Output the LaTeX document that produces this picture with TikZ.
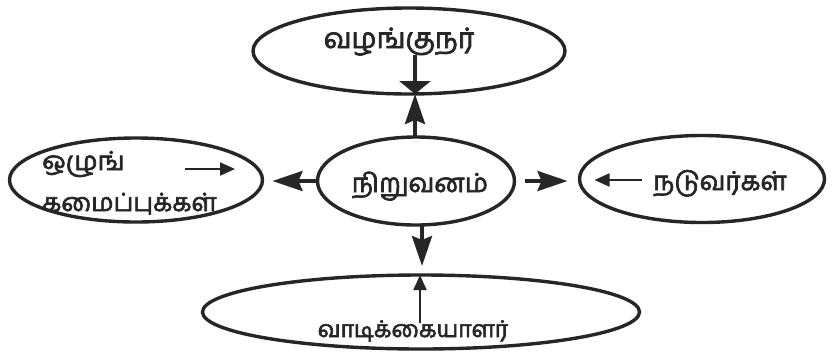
\documentclass[tikz,border=0pt]{standalone}
\usepackage{fontspec}
\newfontfamily\tamil[Script=Tamil,FakeBold=2.6]{Hind Madurai}
\usetikzlibrary{shapes.geometric,arrows.meta,calc}
\definecolor{ink}{HTML}{262626}
\tikzset{
  oval/.style={ellipse,draw=ink,line width=3.4pt,inner sep=0pt,outer sep=0pt},
  lbl/.style={font=\tamil\fontsize{26}{28}\selectfont,text=ink,inner sep=0pt,anchor=base},
  bigarrow/.style={draw=ink,line width=3.8pt,-{Stealth[length=30pt,width=20pt,inset=4pt]}},
  flatarrow/.style={draw=ink,line width=3.4pt,-{Triangle[length=13pt,width=31pt]}},
  thinarrow/.style={draw=ink,line width=1.9pt,-{Triangle[length=15pt,width=13pt]}}
}
\begin{document}
\begin{tikzpicture}[x=1pt,y=-1pt]
\useasboundingbox[fill=white] (0,0) rectangle (833,360);
% ellipses
\node[oval,minimum width=312pt,minimum height=86pt] (top) at (409,51) {};
\node[oval,minimum width=197pt,minimum height=88pt] (mid) at (416,181) {};
\node[oval,minimum width=253pt,minimum height=84pt] (lft) at (136,180) {};
\node[oval,minimum width=245pt,minimum height=87pt] (rgt) at (702,179) {};
\node[oval,minimum width=437pt,minimum height=74pt] (bot) at (421,312) {};
% labels
\node[lbl,font=\tamil\fontsize{28}{30}\selectfont] (ttop) at (399,48) {வழங்குநர்};
\node[lbl] (tmid) at (420,192) {நிறுவனம்};
\node[lbl,anchor=base west] (tl1) at (42,170) {ஒழுங்};
\node[lbl,anchor=base west,font=\tamil\fontsize{25}{28}\selectfont] (tl2) at (42,211) {கமைப்புக்கள்};
\node[lbl] (trgt) at (720,190) {நடுவர்கள்};
\node[lbl,font=\tamil\fontsize{23}{26}\selectfont] (tbot) at (413,337) {வாடிக்கையாளர்};
% connectors between ellipses
\draw[bigarrow] ([xshift=-1pt]mid.north) -- ([xshift=-1pt]mid.north |- top.south);
\draw[bigarrow,shorten >=9pt] ([xshift=6pt]mid.south) -- ([xshift=6pt]mid.south |- bot.north);
\draw[bigarrow,shorten >=10pt] (mid.west) -- (mid.west -| lft.east);
\draw[bigarrow,shorten <=10pt,shorten >=12pt] (mid.east) -- (mid.east -| rgt.west);
% inner arrows
\coordinate (ctop) at (415,55);
\draw[flatarrow] (ctop) -- (ctop |- top.south);
\coordinate (clft) at (185,169);
\coordinate (clftend) at (235,169);
\draw[thinarrow] (clft) -- (clftend);
\coordinate (crgt) at (642,180);
\draw[thinarrow,shorten >=15pt] (crgt) -- (crgt -| rgt.west);
\coordinate (cbot) at (420,323);
\draw[thinarrow] (cbot) -- (cbot |- bot.north);
\end{tikzpicture}
\end{document}
